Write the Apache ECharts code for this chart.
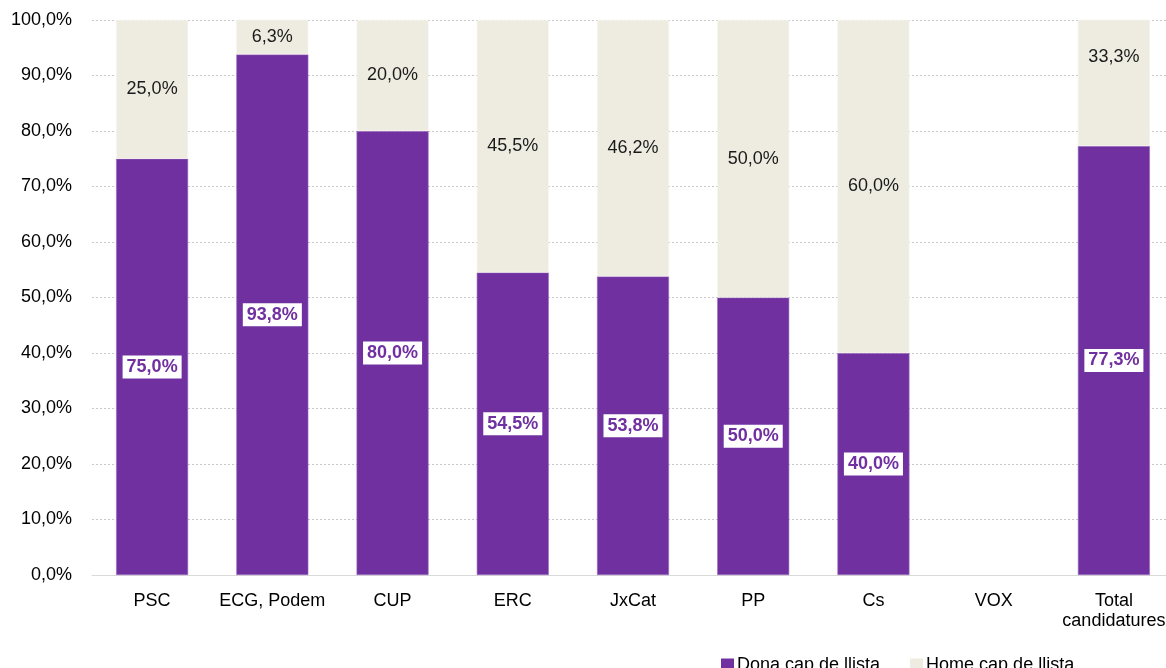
<!DOCTYPE html>
<html>
<head>
<meta charset="utf-8">
<script src="https://cdn.jsdelivr.net/npm/echarts@6/dist/echarts.min.js"></script>
<style>
  html, body { margin: 0; padding: 0; background: #fff; overflow: hidden; }
  #chart { width: 1200px; height: 668px; }
</style>
</head>
<body>
<div id="chart"></div>
<script>
const categories = ['PSC', 'ECG, Podem', 'CUP', 'ERC', 'JxCat', 'PP', 'Cs', 'VOX', 'Total\ncandidatures'];
const donaValues = [75.0, 93.8, 80.0, 54.5, 53.8, 50.0, 40.0, null, 77.3];
const homeValues = [25.0, 6.3, 20.0, 45.5, 46.2, 50.0, 60.0, null, 33.3];
const yTicks = [0, 10, 20, 30, 40, 50, 60, 70, 80, 90, 100];

const fmt = v => v.toFixed(1).replace('.', ',') + '%';
const font = '"Liberation Sans", Arial, sans-serif';

// the plot runs past the right edge of the window, like the original
const chart = echarts.init(document.getElementById('chart'));

chart.setOption({
  animation: false,
  textStyle: { fontFamily: font },
  grid: { left: 92, top: 20, width: 1082, bottom: 93 },
  legend: {
    left: 716,
    top: 651,
    icon: 'rect',
    itemWidth: 13,
    itemHeight: 13,
    itemGap: 30,
    itemStyle: { borderWidth: 0 },
    textStyle: { fontSize: 18, color: '#000', fontFamily: font, padding: [0, 0, 0, -2] },
    data: ['Dona cap de llista', 'Home cap de llista']
  },
  xAxis: {
    type: 'category',
    data: categories,
    axisTick: { show: false },
    axisLine: { lineStyle: { color: '#d9d9d9', width: 1 } },
    axisLabel: { fontSize: 18, color: '#000', margin: 16, lineHeight: 20, interval: 0 }
  },
  yAxis: {
    type: 'value',
    min: yTicks[0],
    max: yTicks[yTicks.length - 1],
    interval: 10,
    axisLine: { show: false },
    axisTick: { show: false },
    axisLabel: { fontSize: 18, color: '#000', margin: 20, formatter: v => fmt(v) },
    splitLine: { lineStyle: { color: '#c8c8c8', type: [2, 2], width: 1 } }
  },
  series: [
    {
      name: 'Dona cap de llista',
      type: 'bar',
      stack: 'total',
      barWidth: 72,
      data: donaValues,
      itemStyle: { color: '#7030a0', borderColor: '#9a6cc0', borderWidth: 0.6 },
      label: {
        show: true,
        position: 'inside',
        formatter: p => fmt(p.value),
        color: '#7030a0',
        fontWeight: 'bold',
        fontSize: 18,
        backgroundColor: '#fff',
        padding: [3, 4, 2, 4]
      }
    },
    {
      name: 'Home cap de llista',
      type: 'bar',
      stack: 'total',
      barWidth: 72,
      data: homeValues.map((v, i) =>
        i === homeValues.length - 1 ? { value: v, label: { offset: [0, -26] } } : v),
      itemStyle: { color: '#eeece1', borderColor: '#f6f5ef', borderWidth: 0.6 },
      label: {
        show: true,
        position: 'inside',
        formatter: p => fmt(p.value),
        color: '#1a1a1a',
        fontSize: 18
      }
    }
  ]
});
</script>
</body>
</html>
